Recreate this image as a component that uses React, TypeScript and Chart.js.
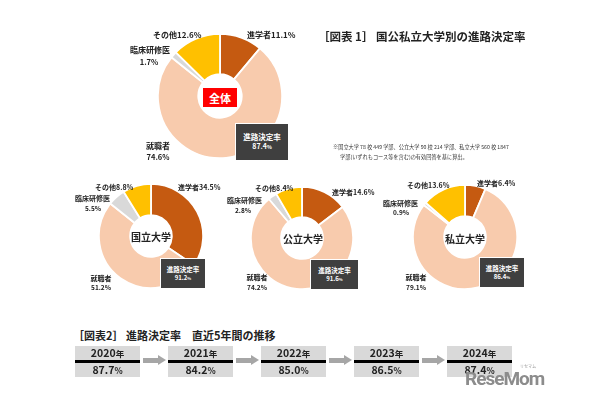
import React, { useEffect, useRef } from "react";
import { Chart, registerables } from "chart.js";

Chart.register(...registerables);

const categories = ["進学者", "就職者", "臨床研修医", "その他"];
const segmentColors = ["#C55A11", "#F8CBAD", "#D9D9D9", "#FFC000"];

const overallValues = [11.1, 74.6, 1.7, 12.6];
const nationalValues = [34.5, 51.2, 5.5, 8.8];
const publicValues = [14.6, 74.2, 2.8, 8.4];
const privateValues = [6.4, 79.1, 0.9, 13.6];

const groupNames = ["全体", "国立大学", "公立大学", "私立大学"];
const decisionRates = [87.4, 91.2, 91.6, 86.4];

const years = ["2020", "2021", "2022", "2023", "2024"];
const yearRates = [87.7, 84.2, 85.0, 86.5, 87.4];

const FONT = '"Noto Sans CJK JP", "Noto Sans", sans-serif';
const f1 = (v: number) => v.toFixed(1);

function Donut(props: { values: number[]; cx: number; cy: number; r: number; cutout: string }) {
  const ref = useRef<HTMLCanvasElement | null>(null);
  const size = Math.round(props.r * 2 + 2);
  useEffect(() => {
    if (!ref.current) return;
    const chart = new Chart(ref.current, {
      type: "doughnut",
      data: {
        labels: categories,
        datasets: [
          {
            data: props.values,
            backgroundColor: segmentColors,
            borderColor: "#ffffff",
            borderWidth: 1.8,
            hoverOffset: 0,
            offset: 0,
          },
        ],
      },
      options: {
        responsive: false,
        animation: false,
        cutout: props.cutout,
        layout: { padding: 0 },
        plugins: { legend: { display: false }, tooltip: { enabled: false } },
        events: [],
      },
    });
    return () => chart.destroy();
  }, []);
  return (
    <canvas
      ref={ref}
      width={size}
      height={size}
      style={{ position: "absolute", left: props.cx - size / 2, top: props.cy - size / 2, width: size, height: size }}
    />
  );
}

function T(props: {
  x: number;
  y: number;
  text: React.ReactNode;
  size: number;
  align?: "left" | "center";
  color?: string;
  bold?: boolean;
}) {
  const center = props.align === "center";
  return (
    <div
      style={{
        position: "absolute",
        left: props.x,
        top: props.y,
        transform: center ? "translate(-50%, -50%)" : "translateY(-50%)",
        fontSize: props.size,
        fontWeight: props.bold === false ? 400 : 700,
        color: props.color || "#222",
        whiteSpace: "nowrap",
        lineHeight: 1,
        fontFamily: FONT,
      }}
    >
      {props.text}
    </div>
  );
}

function RateBox(props: { left: number; top: number; w: number; h: number; rate: number; size: number }) {
  return (
    <div
      style={{
        position: "absolute",
        left: props.left,
        top: props.top,
        width: props.w,
        height: props.h,
        background: "#3F3F3F",
        color: "#fff",
        fontFamily: FONT,
        fontWeight: 700,
        display: "flex",
        flexDirection: "column",
        alignItems: "center",
        justifyContent: "center",
        lineHeight: 1.35,
        border: "1px solid #ffffff",
        boxSizing: "border-box",
      }}
    >
      <div style={{ fontSize: props.size }}>進路決定率</div>
      <div style={{ fontSize: props.size - 0.5 }}>
        {f1(props.rate)}
        <span style={{ fontSize: props.size - 2.5 }}>%</span>
      </div>
    </div>
  );
}

export default function App() {
  const small = 7;
  return (
    <div style={{ position: "absolute", left: 0, top: 0, width: 610, height: 400, background: "#fff", overflow: "hidden" }}>
      {/* main doughnut */}
      <Donut values={overallValues} cx={220} cy={96} r={62} cutout="35%" />
      <div
        style={{
          position: "absolute",
          left: 203,
          top: 88,
          width: 34,
          height: 19,
          background: "#FF0000",
          color: "#fff",
          fontFamily: FONT,
          fontWeight: 700,
          fontSize: 11,
          display: "flex",
          alignItems: "center",
          justifyContent: "center",
        }}
      >
        {groupNames[0]}
      </div>
      <RateBox left={235} top={123} w={54} h={38} rate={decisionRates[0]} size={7.5} />
      <T x={153} y={35} text={`${categories[3]}${f1(overallValues[3])}%`} size={8} />
      <T x={247} y={35} text={`${categories[0]}${f1(overallValues[0])}%`} size={8} />
      <T x={130} y={50} text={categories[2]} size={8} />
      <T x={149} y={62} text={`${f1(overallValues[2])}%`} size={7.5} align="center" />
      <T x={158} y={146} text={categories[1]} size={8} align="center" />
      <T x={158} y={157} text={`${f1(overallValues[1])}%`} size={7.5} align="center" />

      {/* title + note */}
      <T x={318} y={37} text="［図表 1］ 国公私立大学別の進路決定率" size={11.5} />
      <T x={333} y={147} text="※国立大学 78 校 449 学部、公立大学 90 校 214 学部、私立大学 560 校 1847" size={5.2} bold={false} color="#333" />
      <T x={340} y={157} text="学部(いずれもコース等を含む)の有効回答を基に算出。" size={5.2} bold={false} color="#333" />

      {/* national */}
      <Donut values={nationalValues} cx={151} cy={236} r={52} cutout="40%" />
      <T x={151} y={237} text={groupNames[1]} size={10} align="center" />
      <RateBox left={160} top={258} w={46} h={31} rate={decisionRates[1]} size={6.5} />
      <T x={95} y={187} text={`${categories[3]}${f1(nationalValues[3])}%`} size={small} />
      <T x={178} y={187} text={`${categories[0]}${f1(nationalValues[0])}%`} size={small} />
      <T x={75} y={198} text={categories[2]} size={small} />
      <T x={93} y={208} text={`${f1(nationalValues[2])}%`} size={small - 0.5} align="center" />
      <T x={101} y={278} text={categories[1]} size={small} align="center" />
      <T x={101} y={287} text={`${f1(nationalValues[1])}%`} size={small - 0.5} align="center" />

      {/* public */}
      <Donut values={publicValues} cx={302} cy={238} r={51} cutout="41%" />
      <T x={303} y={239} text={groupNames[2]} size={10} align="center" />
      <RateBox left={310} top={259} w={49} h={31} rate={decisionRates[2]} size={6.5} />
      <T x={255} y={188} text={`${categories[3]}${f1(publicValues[3])}%`} size={small} />
      <T x={332} y={192} text={`${categories[0]}${f1(publicValues[0])}%`} size={small} />
      <T x={227} y={200} text={categories[2]} size={small} />
      <T x={243} y={210} text={`${f1(publicValues[2])}%`} size={small - 0.5} align="center" />
      <T x={257} y={277} text={categories[1]} size={small} align="center" />
      <T x={257} y={287} text={`${f1(publicValues[1])}%`} size={small - 0.5} align="center" />

      {/* private */}
      <Donut values={privateValues} cx={465} cy={237} r={52} cutout="40%" />
      <T x={465} y={239} text={groupNames[3]} size={10} align="center" />
      <RateBox left={479} top={257} w={46} h={31} rate={decisionRates[3]} size={6.5} />
      <T x={407} y={185} text={`${categories[3]}${f1(privateValues[3])}%`} size={small} />
      <T x={477} y={183} text={`${categories[0]}${f1(privateValues[0])}%`} size={small} />
      <T x={383} y={203} text={categories[2]} size={small} />
      <T x={401} y={212} text={`${f1(privateValues[2])}%`} size={small - 0.5} align="center" />
      <T x={416} y={277} text={categories[1]} size={small} align="center" />
      <T x={416} y={287} text={`${f1(privateValues[1])}%`} size={small - 0.5} align="center" />

      {/* trend */}
      <T x={73} y={335} text="［図表2］ 進路決定率　直近5年間の推移" size={11} />
      {years.map((yr, i) => {
        const left = 75 + i * 93;
        return (
          <React.Fragment key={yr}>
            <div style={{ position: "absolute", left, top: 346, width: 65, height: 31, background: "#D9D9D9" }} />
            <div style={{ position: "absolute", left, top: 359.5, width: 65, height: 3, background: "#000" }} />
            <T
              x={left + 32.5}
              y={352.5}
              text={
                <>
                  {yr}
                  <span style={{ fontSize: 8.5 }}>年</span>
                </>
              }
              size={10.5}
              align="center"
            />
            <T
              x={left + 32.5}
              y={370}
              text={
                <>
                  {f1(yearRates[i])}
                  <span style={{ fontSize: 8.5 }}>%</span>
                </>
              }
              size={10.5}
              align="center"
            />
            {i < years.length - 1 && (
              <div style={{ position: "absolute", left: left + 68, top: 355, width: 23, height: 10 }}>
                <div style={{ position: "absolute", left: 0, top: 2.5, width: 15, height: 5, background: "#A6A6A6" }} />
                <div
                  style={{
                    position: "absolute",
                    left: 15,
                    top: 0,
                    width: 0,
                    height: 0,
                    borderTop: "5px solid transparent",
                    borderBottom: "5px solid transparent",
                    borderLeft: "8px solid #A6A6A6",
                  }}
                />
              </div>
            )}
          </React.Fragment>
        );
      })}
      <div
        style={{
          position: "absolute",
          left: 465,
          top: 369,
          fontFamily: '"Roboto", "Noto Sans", sans-serif',
          fontWeight: 700,
          fontSize: 19,
          color: "#8C8C8C",
          lineHeight: 1,
          letterSpacing: -1,
        }}
      >
        ReseMom
      </div>
      <div style={{ position: "absolute", left: 520, top: 363, fontFamily: FONT, fontSize: 4, color: "#999" }}>リセマム</div>
    </div>
  );
}
